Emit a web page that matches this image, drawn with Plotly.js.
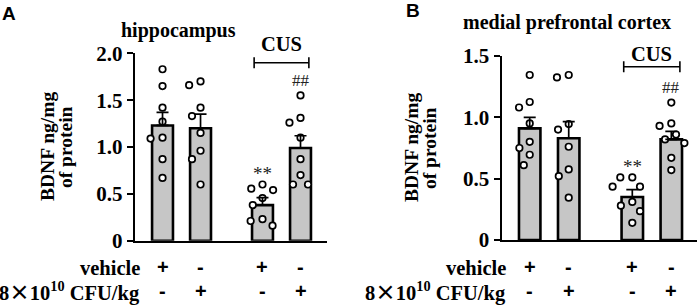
<!DOCTYPE html>
<html>
<head>
<meta charset="utf-8">
<script src="https://cdn.plot.ly/plotly-3.0.1.min.js"></script>
<style>html,body{margin:0;padding:0;background:#fff;}#chart{width:699px;height:305px;}</style>
</head>
<body>
<div id="chart"></div>
<script>
// ---------- data ----------
const groups = ['vehicle', 'probiotic', 'CUS + vehicle', 'CUS + probiotic'];
const vehicleRow = ['+', '-', '+', '-'];
const doseRow = ['-', '+', '-', '+'];

const hippoMean = [1.23, 1.20, 0.38, 0.99];
const hippoSEM  = [0.14, 0.15, 0.08, 0.13];
const hippoPts = [
  [1.83, 1.65, 1.42, 1.27, 1.10, 1.09, 0.87, 0.67],
  [1.70, 1.66, 1.42, 1.33, 1.15, 0.96, 0.87, 0.60],
  [0.60, 0.555, 0.54, 0.455, 0.38, 0.23, 0.21, 0.16],
  [1.55, 1.31, 1.26, 1.10, 0.87, 0.70, 0.60, 0.60]
];
const mpfcMean = [0.91, 0.83, 0.35, 0.82];
const mpfcSEM  = [0.09, 0.135, 0.06, 0.065];
const mpfcPts = [
  [1.345, 1.125, 1.08, 0.95, 0.80, 0.75, 0.695, 0.61],
  [1.345, 1.325, 0.945, 0.90, 0.76, 0.575, 0.52, 0.345],
  [0.51, 0.51, 0.435, 0.435, 0.31, 0.28, 0.235, 0.14],
  [1.12, 0.95, 0.93, 0.86, 0.82, 0.79, 0.67, 0.57]
];
const yTicksA = [0, 0.5, 1.0, 1.5, 2.0];
const yTicksB = [0, 0.5, 1.0, 1.5];
const titleA = 'hippocampus';
const titleB = 'medial prefrontal cortex';
const yTitle1 = 'BDNF ng/mg';
const yTitle2 = 'of protein';
const rowLabel1 = 'vehicle';
const rowLabel2 = '8<span style="font-family:\'Noto Sans CJK SC\'">×</span>10<sup>10</sup> CFU/kg';

// ---------- layout helpers ----------
const W = 699, H = 305;
const px = v => v / W;          // horizontal pixel -> paper
const py = v => 1 - v / H;      // vertical pixel -> paper
const pos = groups.map((g, i) => i + (i >= 2 ? 0.63 : 0));
const SERIF = 'Liberation Serif, Times New Roman, serif';
const SANS = 'Liberation Sans, Arial, sans-serif';

const panels = [
  { key: '', letter: 'A', title: titleA, mean: hippoMean, sem: hippoSEM, pts: hippoPts, ticks: yTicksA,
    xdom: [px(135), px(327)], xr: [-0.724, 4.327], ydom: [py(240.7), py(53.3)], yr: [0, 2],
    letterXY: [9, 13], titleXY: [179, 30], yt: [47, 65], rowRight: 142, cus: 44, brk: 62.7 },
  { key: '2', letter: 'B', title: titleB, mean: mpfcMean, sem: mpfcSEM, pts: mpfcPts, ticks: yTicksB,
    xdom: [px(501.7), px(696.7)], xr: [-0.718, 4.281], ydom: [py(240), py(56)], yr: [0, 1.5],
    letterXY: [413, 11], titleXY: [567, 23], yt: [411, 429], rowRight: 508, cus: 53.5, brk: 66.7 }
];

// simple beeswarm in pixel space
function swarm(vals, pxPerX, pxPerY, D) {
  const placed = [];
  const order = vals.map((v, i) => i).sort((a, b) => vals[b] - vals[a]);
  const off = new Array(vals.length).fill(0);
  order.forEach(i => {
    const y = vals[i] * pxPerY;
    const cands = [0];
    placed.forEach(p => {
      const dy = Math.abs(p.y - y);
      if (dy < D) { const dx = Math.sqrt(D * D - dy * dy); cands.push(p.x + dx, p.x - dx); }
    });
    cands.sort((a, b) => Math.abs(a) - Math.abs(b) || a - b);
    let chosen = 0;
    for (const c of cands) {
      if (placed.every(p => Math.hypot(p.x - c, p.y - y) >= D - 1e-6)) { chosen = c; break; }
    }
    placed.push({ x: chosen, y: y });
    off[i] = chosen / pxPerX;
  });
  return off;
}

const traces = [];
const layout = {
  width: W, height: H, margin: { l: 0, r: 0, t: 0, b: 0 },
  paper_bgcolor: '#fff', plot_bgcolor: 'rgba(0,0,0,0)', showlegend: false,
  annotations: [], shapes: []
};

panels.forEach(P => {
  const xa = 'x' + P.key, ya = 'y' + P.key;
  const pxPerX = (P.xdom[1] - P.xdom[0]) * W / (P.xr[1] - P.xr[0]);
  const pxPerY = (P.ydom[1] - P.ydom[0]) * H / (P.yr[1] - P.yr[0]);

  layout['xaxis' + P.key] = {
    domain: P.xdom, range: P.xr, anchor: ya, showline: true, linewidth: 2.2, linecolor: '#000',
    ticks: '', showticklabels: false, showgrid: false, zeroline: false, fixedrange: true
  };
  layout['yaxis' + P.key] = {
    domain: P.ydom, range: P.yr, anchor: xa, showline: true, linewidth: 2.2, linecolor: '#000',
    ticks: 'outside', ticklen: 6, tickwidth: 2.2, tickcolor: '#000',
    tickvals: P.ticks, ticktext: P.ticks.map(v => v === 0 ? '0' : v.toFixed(1)),
    tickfont: { family: SERIF, size: 21, weight: 'bold', color: '#000' },
    showgrid: false, zeroline: false, fixedrange: true
  };

  traces.push({
    type: 'bar', x: pos, y: P.mean, xaxis: xa, yaxis: ya, width: 0.55,
    marker: { color: '#c6c6c6', line: { color: '#000', width: 2.6 } }, hoverinfo: 'skip'
  });
  const xs = [], ys = [];
  P.pts.forEach((arr, g) => {
    const off = swarm(arr, pxPerX, pxPerY, 12);
    arr.forEach((v, k) => { xs.push(pos[g] + off[k]); ys.push(v); });
  });
  traces.push({
    type: 'scatter', mode: 'markers', x: xs, y: ys, xaxis: xa, yaxis: ya, cliponaxis: false,
    marker: { size: 6.5, color: '#fff', line: { color: '#000', width: 1.7 } }, hoverinfo: 'skip'
  });
  traces.push({
    type: 'scatter', mode: 'markers', x: pos, y: P.mean, xaxis: xa, yaxis: ya,
    marker: { size: 1, opacity: 0 }, hoverinfo: 'skip',
    error_y: { type: 'data', symmetric: false, array: P.sem, arrayminus: P.sem.map(() => 0),
               color: '#000', thickness: 1.7, width: 6 }
  });

  const A = layout.annotations;
  const bold = (s) => ({ family: SERIF, size: s, weight: 'bold', color: '#000' });
  const sans = (s) => ({ family: SANS, size: s, weight: 'bold', color: '#000' });
  A.push({ xref: 'paper', yref: 'paper', x: px(P.letterXY[0]), y: py(P.letterXY[1]), text: P.letter,
           showarrow: false, xanchor: 'center', yanchor: 'middle', font: sans(19) });
  A.push({ xref: 'paper', yref: 'paper', x: px(P.titleXY[0]), y: py(P.titleXY[1]), text: P.title,
           showarrow: false, xanchor: 'center', yanchor: 'middle', font: bold(20) });
  const yMid = (P.ydom[0] + P.ydom[1]) / 2;
  A.push({ xref: 'paper', yref: 'paper', x: px(P.yt[0]), y: yMid, text: yTitle1, textangle: -90,
           showarrow: false, xanchor: 'center', yanchor: 'middle', font: bold(19.5) });
  A.push({ xref: 'paper', yref: 'paper', x: px(P.yt[1]), y: yMid, text: yTitle2, textangle: -90,
           showarrow: false, xanchor: 'center', yanchor: 'middle', font: bold(19.5) });
  // CUS bracket
  const bx0 = pos[2] - 0.22, bx1 = pos[3] + 0.22;
  A.push({ xref: xa, yref: 'paper', x: (pos[2] + pos[3]) / 2, y: py(P.cus), text: 'CUS',
           showarrow: false, xanchor: 'center', yanchor: 'middle', font: bold(20.5) });
  const ln = { color: '#000', width: 1.6 };
  layout.shapes.push({ type: 'line', xref: xa, yref: 'paper', x0: bx0, x1: bx1, y0: py(P.brk), y1: py(P.brk), line: ln });
  layout.shapes.push({ type: 'line', xref: xa, yref: 'paper', x0: bx0, x1: bx0, y0: py(P.brk - 5.5), y1: py(P.brk + 5.5), line: ln });
  layout.shapes.push({ type: 'line', xref: xa, yref: 'paper', x0: bx1, x1: bx1, y0: py(P.brk - 5.5), y1: py(P.brk + 5.5), line: ln });
  // significance marks
  A.push({ xref: xa, yref: ya, x: pos[2], y: Math.max(...P.pts[2]), yshift: 11, text: '**',
           showarrow: false, xanchor: 'center', yanchor: 'middle', font: { family: SERIF, size: 19, color: '#222' } });
  A.push({ xref: xa, yref: ya, x: pos[3], y: Math.max(...P.pts[3]), yshift: 15, text: '##',
           showarrow: false, xanchor: 'center', yanchor: 'middle', font: { family: SERIF, size: 17, color: '#222' } });
  // treatment rows
  A.push({ xref: 'paper', yref: 'paper', x: px(P.rowRight), y: py(268), text: rowLabel1,
           showarrow: false, xanchor: 'right', yanchor: 'middle', font: bold(20.5) });
  A.push({ xref: 'paper', yref: 'paper', x: px(P.rowRight), y: py(291), text: rowLabel2,
           showarrow: false, xanchor: 'right', yanchor: 'middle', font: bold(20.5) });
  pos.forEach((p, i) => {
    A.push({ xref: xa, yref: 'paper', x: p, y: py(267), text: vehicleRow[i],
             showarrow: false, xanchor: 'center', yanchor: 'middle', font: sans(20) });
    A.push({ xref: xa, yref: 'paper', x: p, y: py(291), text: doseRow[i],
             showarrow: false, xanchor: 'center', yanchor: 'middle', font: sans(20) });
  });
});

Plotly.newPlot('chart', traces, layout, { staticPlot: true, displayModeBar: false });
</script>
</body>
</html>
